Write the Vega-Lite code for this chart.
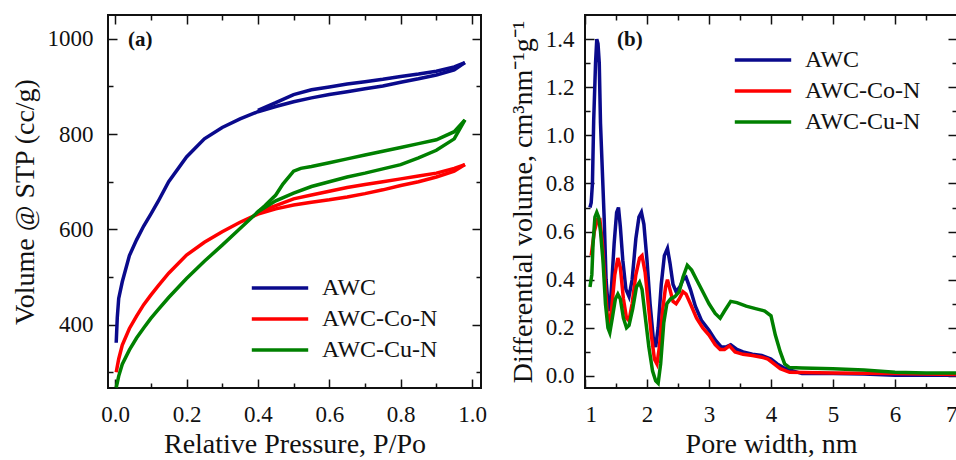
{
  "$schema": "https://vega.github.io/schema/vega-lite/v6.json",
  "background": "white",
  "padding": {"left": 10, "top": 13, "right": 0, "bottom": 0},
  "spacing": 20,
  "config": {
    "font": "Liberation Serif",
    "view": {"stroke": "#111", "strokeWidth": 2},
    "axis": {"labelFont": "Liberation Serif", "titleFont": "Liberation Serif", "labelColor": "#111", "titleColor": "#111", "tickColor": "#111", "grid": false, "domain": false, "labelFontSize": 23, "titleFontSize": 28, "titleFontWeight": "normal", "tickWidth": 1.5},
    "legend": {"labelFont": "Liberation Serif", "labelColor": "#111", "labelFontSize": 24, "padding": 0}
  },
  "datasets": {
    "iso": [
      {"s":"AWC","b":"ads","p":0.003,"v":362},{"s":"AWC","b":"ads","p":0.006,"v":415},{"s":"AWC","b":"ads","p":0.01,"v":455},{"s":"AWC","b":"ads","p":0.02,"v":490},{"s":"AWC","b":"ads","p":0.04,"v":545},{"s":"AWC","b":"ads","p":0.06,"v":578},{"s":"AWC","b":"ads","p":0.08,"v":607},{"s":"AWC","b":"ads","p":0.1,"v":632},{"s":"AWC","b":"ads","p":0.12,"v":658},{"s":"AWC","b":"ads","p":0.15,"v":700},{"s":"AWC","b":"ads","p":0.2,"v":752},{"s":"AWC","b":"ads","p":0.25,"v":790},{"s":"AWC","b":"ads","p":0.3,"v":814},{"s":"AWC","b":"ads","p":0.35,"v":832},{"s":"AWC","b":"ads","p":0.4,"v":847},{"s":"AWC","b":"ads","p":0.45,"v":858},{"s":"AWC","b":"ads","p":0.5,"v":868},{"s":"AWC","b":"ads","p":0.55,"v":876},{"s":"AWC","b":"ads","p":0.6,"v":883},{"s":"AWC","b":"ads","p":0.65,"v":889},{"s":"AWC","b":"ads","p":0.7,"v":895},{"s":"AWC","b":"ads","p":0.75,"v":901},{"s":"AWC","b":"ads","p":0.8,"v":909},{"s":"AWC","b":"ads","p":0.85,"v":916},{"s":"AWC","b":"ads","p":0.9,"v":924},{"s":"AWC","b":"ads","p":0.95,"v":935},{"s":"AWC","b":"ads","p":0.98,"v":950},
      {"s":"AWC","b":"des","p":0.4,"v":850},{"s":"AWC","b":"des","p":0.45,"v":866},{"s":"AWC","b":"des","p":0.5,"v":883},{"s":"AWC","b":"des","p":0.55,"v":893},{"s":"AWC","b":"des","p":0.6,"v":899},{"s":"AWC","b":"des","p":0.65,"v":905},{"s":"AWC","b":"des","p":0.7,"v":910},{"s":"AWC","b":"des","p":0.75,"v":915},{"s":"AWC","b":"des","p":0.8,"v":921},{"s":"AWC","b":"des","p":0.85,"v":926},{"s":"AWC","b":"des","p":0.9,"v":932},{"s":"AWC","b":"des","p":0.95,"v":941},{"s":"AWC","b":"des","p":0.98,"v":950},
      {"s":"AWC-Co-N","b":"ads","p":0.003,"v":300},{"s":"AWC-Co-N","b":"ads","p":0.01,"v":328},{"s":"AWC-Co-N","b":"ads","p":0.02,"v":357},{"s":"AWC-Co-N","b":"ads","p":0.04,"v":392},{"s":"AWC-Co-N","b":"ads","p":0.06,"v":418},{"s":"AWC-Co-N","b":"ads","p":0.08,"v":442},{"s":"AWC-Co-N","b":"ads","p":0.1,"v":462},{"s":"AWC-Co-N","b":"ads","p":0.12,"v":481},{"s":"AWC-Co-N","b":"ads","p":0.15,"v":508},{"s":"AWC-Co-N","b":"ads","p":0.2,"v":546},{"s":"AWC-Co-N","b":"ads","p":0.25,"v":573},{"s":"AWC-Co-N","b":"ads","p":0.3,"v":595},{"s":"AWC-Co-N","b":"ads","p":0.35,"v":615},{"s":"AWC-Co-N","b":"ads","p":0.4,"v":632},{"s":"AWC-Co-N","b":"ads","p":0.45,"v":643},{"s":"AWC-Co-N","b":"ads","p":0.5,"v":651},{"s":"AWC-Co-N","b":"ads","p":0.55,"v":657},{"s":"AWC-Co-N","b":"ads","p":0.6,"v":662},{"s":"AWC-Co-N","b":"ads","p":0.65,"v":668},{"s":"AWC-Co-N","b":"ads","p":0.7,"v":675},{"s":"AWC-Co-N","b":"ads","p":0.75,"v":683},{"s":"AWC-Co-N","b":"ads","p":0.8,"v":692},{"s":"AWC-Co-N","b":"ads","p":0.85,"v":700},{"s":"AWC-Co-N","b":"ads","p":0.9,"v":710},{"s":"AWC-Co-N","b":"ads","p":0.95,"v":722},{"s":"AWC-Co-N","b":"ads","p":0.98,"v":736},
      {"s":"AWC-Co-N","b":"des","p":0.4,"v":636},{"s":"AWC-Co-N","b":"des","p":0.45,"v":650},{"s":"AWC-Co-N","b":"des","p":0.5,"v":664},{"s":"AWC-Co-N","b":"des","p":0.55,"v":672},{"s":"AWC-Co-N","b":"des","p":0.6,"v":680},{"s":"AWC-Co-N","b":"des","p":0.65,"v":688},{"s":"AWC-Co-N","b":"des","p":0.7,"v":694},{"s":"AWC-Co-N","b":"des","p":0.75,"v":700},{"s":"AWC-Co-N","b":"des","p":0.8,"v":706},{"s":"AWC-Co-N","b":"des","p":0.85,"v":712},{"s":"AWC-Co-N","b":"des","p":0.9,"v":718},{"s":"AWC-Co-N","b":"des","p":0.95,"v":728},{"s":"AWC-Co-N","b":"des","p":0.98,"v":736},
      {"s":"AWC-Cu-N","b":"ads","p":0.003,"v":268},{"s":"AWC-Cu-N","b":"ads","p":0.01,"v":292},{"s":"AWC-Cu-N","b":"ads","p":0.02,"v":317},{"s":"AWC-Cu-N","b":"ads","p":0.04,"v":347},{"s":"AWC-Cu-N","b":"ads","p":0.06,"v":372},{"s":"AWC-Cu-N","b":"ads","p":0.08,"v":393},{"s":"AWC-Cu-N","b":"ads","p":0.1,"v":413},{"s":"AWC-Cu-N","b":"ads","p":0.12,"v":431},{"s":"AWC-Cu-N","b":"ads","p":0.15,"v":457},{"s":"AWC-Cu-N","b":"ads","p":0.2,"v":497},{"s":"AWC-Cu-N","b":"ads","p":0.25,"v":533},{"s":"AWC-Cu-N","b":"ads","p":0.3,"v":567},{"s":"AWC-Cu-N","b":"ads","p":0.35,"v":602},{"s":"AWC-Cu-N","b":"ads","p":0.4,"v":637},{"s":"AWC-Cu-N","b":"ads","p":0.45,"v":660},{"s":"AWC-Cu-N","b":"ads","p":0.5,"v":676},{"s":"AWC-Cu-N","b":"ads","p":0.55,"v":690},{"s":"AWC-Cu-N","b":"ads","p":0.6,"v":700},{"s":"AWC-Cu-N","b":"ads","p":0.65,"v":710},{"s":"AWC-Cu-N","b":"ads","p":0.7,"v":718},{"s":"AWC-Cu-N","b":"ads","p":0.75,"v":727},{"s":"AWC-Cu-N","b":"ads","p":0.8,"v":736},{"s":"AWC-Cu-N","b":"ads","p":0.85,"v":750},{"s":"AWC-Cu-N","b":"ads","p":0.9,"v":766},{"s":"AWC-Cu-N","b":"ads","p":0.95,"v":790},{"s":"AWC-Cu-N","b":"ads","p":0.98,"v":830},
      {"s":"AWC-Cu-N","b":"des","p":0.4,"v":637},{"s":"AWC-Cu-N","b":"des","p":0.42,"v":650},{"s":"AWC-Cu-N","b":"des","p":0.45,"v":672},{"s":"AWC-Cu-N","b":"des","p":0.47,"v":695},{"s":"AWC-Cu-N","b":"des","p":0.5,"v":722},{"s":"AWC-Cu-N","b":"des","p":0.52,"v":728},{"s":"AWC-Cu-N","b":"des","p":0.55,"v":732},{"s":"AWC-Cu-N","b":"des","p":0.6,"v":740},{"s":"AWC-Cu-N","b":"des","p":0.65,"v":748},{"s":"AWC-Cu-N","b":"des","p":0.7,"v":756},{"s":"AWC-Cu-N","b":"des","p":0.75,"v":764},{"s":"AWC-Cu-N","b":"des","p":0.8,"v":772},{"s":"AWC-Cu-N","b":"des","p":0.85,"v":780},{"s":"AWC-Cu-N","b":"des","p":0.9,"v":788},{"s":"AWC-Cu-N","b":"des","p":0.95,"v":805},{"s":"AWC-Cu-N","b":"des","p":0.98,"v":830}
    ],
    "psd": [
      {"s":"AWC","w":1.08,"d":0.70},{"s":"AWC","w":1.10,"d":0.72},{"s":"AWC","w":1.12,"d":0.80},{"s":"AWC","w":1.14,"d":1.06},{"s":"AWC","w":1.17,"d":1.30},{"s":"AWC","w":1.19,"d":1.40},{"s":"AWC","w":1.21,"d":1.38},{"s":"AWC","w":1.23,"d":1.30},{"s":"AWC","w":1.25,"d":1.05},{"s":"AWC","w":1.28,"d":0.85},{"s":"AWC","w":1.31,"d":0.65},{"s":"AWC","w":1.34,"d":0.40},{"s":"AWC","w":1.37,"d":0.30},{"s":"AWC","w":1.40,"d":0.27},{"s":"AWC","w":1.43,"d":0.38},{"s":"AWC","w":1.47,"d":0.55},{"s":"AWC","w":1.51,"d":0.68},{"s":"AWC","w":1.54,"d":0.70},{"s":"AWC","w":1.57,"d":0.62},{"s":"AWC","w":1.61,"d":0.48},{"s":"AWC","w":1.66,"d":0.36},{"s":"AWC","w":1.71,"d":0.33},{"s":"AWC","w":1.76,"d":0.40},{"s":"AWC","w":1.82,"d":0.57},{"s":"AWC","w":1.87,"d":0.66},{"s":"AWC","w":1.91,"d":0.68},{"s":"AWC","w":1.95,"d":0.63},{"s":"AWC","w":2.00,"d":0.48},{"s":"AWC","w":2.05,"d":0.30},{"s":"AWC","w":2.10,"d":0.16},{"s":"AWC","w":2.14,"d":0.12},{"s":"AWC","w":2.18,"d":0.20},{"s":"AWC","w":2.23,"d":0.38},{"s":"AWC","w":2.28,"d":0.50},{"s":"AWC","w":2.33,"d":0.53},{"s":"AWC","w":2.37,"d":0.47},{"s":"AWC","w":2.42,"d":0.38},{"s":"AWC","w":2.47,"d":0.35},{"s":"AWC","w":2.53,"d":0.37},{"s":"AWC","w":2.58,"d":0.40},{"s":"AWC","w":2.63,"d":0.41},{"s":"AWC","w":2.70,"d":0.36},{"s":"AWC","w":2.78,"d":0.29},{"s":"AWC","w":2.88,"d":0.23},{"s":"AWC","w":3.00,"d":0.19},{"s":"AWC","w":3.10,"d":0.15},{"s":"AWC","w":3.20,"d":0.12},{"s":"AWC","w":3.27,"d":0.12},{"s":"AWC","w":3.35,"d":0.13},{"s":"AWC","w":3.45,"d":0.11},{"s":"AWC","w":3.55,"d":0.10},{"s":"AWC","w":3.70,"d":0.09},{"s":"AWC","w":3.85,"d":0.085},{"s":"AWC","w":4.00,"d":0.07},{"s":"AWC","w":4.10,"d":0.05},{"s":"AWC","w":4.20,"d":0.035},{"s":"AWC","w":4.30,"d":0.025},{"s":"AWC","w":4.50,"d":0.01},{"s":"AWC","w":5.00,"d":0.01},{"s":"AWC","w":5.50,"d":0.008},{"s":"AWC","w":6.00,"d":0.003},{"s":"AWC","w":6.50,"d":0.003},{"s":"AWC","w":7.00,"d":0.003},
      {"s":"AWC-Co-N","w":1.10,"d":0.50},{"s":"AWC-Co-N","w":1.15,"d":0.60},{"s":"AWC-Co-N","w":1.20,"d":0.65},{"s":"AWC-Co-N","w":1.24,"d":0.65},{"s":"AWC-Co-N","w":1.28,"d":0.55},{"s":"AWC-Co-N","w":1.32,"d":0.40},{"s":"AWC-Co-N","w":1.36,"d":0.25},{"s":"AWC-Co-N","w":1.39,"d":0.21},{"s":"AWC-Co-N","w":1.43,"d":0.28},{"s":"AWC-Co-N","w":1.48,"d":0.42},{"s":"AWC-Co-N","w":1.53,"d":0.49},{"s":"AWC-Co-N","w":1.57,"d":0.45},{"s":"AWC-Co-N","w":1.62,"d":0.32},{"s":"AWC-Co-N","w":1.67,"d":0.24},{"s":"AWC-Co-N","w":1.71,"d":0.23},{"s":"AWC-Co-N","w":1.76,"d":0.30},{"s":"AWC-Co-N","w":1.82,"d":0.42},{"s":"AWC-Co-N","w":1.88,"d":0.49},{"s":"AWC-Co-N","w":1.92,"d":0.50},{"s":"AWC-Co-N","w":1.97,"d":0.43},{"s":"AWC-Co-N","w":2.02,"d":0.30},{"s":"AWC-Co-N","w":2.07,"d":0.17},{"s":"AWC-Co-N","w":2.12,"d":0.07},{"s":"AWC-Co-N","w":2.16,"d":0.05},{"s":"AWC-Co-N","w":2.20,"d":0.12},{"s":"AWC-Co-N","w":2.25,"d":0.27},{"s":"AWC-Co-N","w":2.30,"d":0.37},{"s":"AWC-Co-N","w":2.33,"d":0.40},{"s":"AWC-Co-N","w":2.37,"d":0.36},{"s":"AWC-Co-N","w":2.42,"d":0.31},{"s":"AWC-Co-N","w":2.47,"d":0.30},{"s":"AWC-Co-N","w":2.52,"d":0.32},{"s":"AWC-Co-N","w":2.58,"d":0.35},{"s":"AWC-Co-N","w":2.63,"d":0.34},{"s":"AWC-Co-N","w":2.70,"d":0.30},{"s":"AWC-Co-N","w":2.80,"d":0.24},{"s":"AWC-Co-N","w":2.90,"d":0.20},{"s":"AWC-Co-N","w":3.00,"d":0.17},{"s":"AWC-Co-N","w":3.10,"d":0.13},{"s":"AWC-Co-N","w":3.18,"d":0.11},{"s":"AWC-Co-N","w":3.25,"d":0.11},{"s":"AWC-Co-N","w":3.33,"d":0.125},{"s":"AWC-Co-N","w":3.42,"d":0.10},{"s":"AWC-Co-N","w":3.55,"d":0.09},{"s":"AWC-Co-N","w":3.70,"d":0.085},{"s":"AWC-Co-N","w":3.85,"d":0.078},{"s":"AWC-Co-N","w":3.95,"d":0.07},{"s":"AWC-Co-N","w":4.05,"d":0.05},{"s":"AWC-Co-N","w":4.15,"d":0.03},{"s":"AWC-Co-N","w":4.30,"d":0.015},{"s":"AWC-Co-N","w":5.00,"d":0.012},{"s":"AWC-Co-N","w":6.00,"d":0.01},{"s":"AWC-Co-N","w":7.00,"d":0.006},
      {"s":"AWC-Cu-N","w":1.08,"d":0.37},{"s":"AWC-Cu-N","w":1.11,"d":0.42},{"s":"AWC-Cu-N","w":1.13,"d":0.55},{"s":"AWC-Cu-N","w":1.16,"d":0.66},{"s":"AWC-Cu-N","w":1.19,"d":0.68},{"s":"AWC-Cu-N","w":1.22,"d":0.66},{"s":"AWC-Cu-N","w":1.25,"d":0.60},{"s":"AWC-Cu-N","w":1.29,"d":0.48},{"s":"AWC-Cu-N","w":1.33,"d":0.30},{"s":"AWC-Cu-N","w":1.37,"d":0.20},{"s":"AWC-Cu-N","w":1.40,"d":0.18},{"s":"AWC-Cu-N","w":1.44,"d":0.24},{"s":"AWC-Cu-N","w":1.49,"d":0.32},{"s":"AWC-Cu-N","w":1.53,"d":0.34},{"s":"AWC-Cu-N","w":1.57,"d":0.32},{"s":"AWC-Cu-N","w":1.62,"d":0.24},{"s":"AWC-Cu-N","w":1.67,"d":0.20},{"s":"AWC-Cu-N","w":1.71,"d":0.21},{"s":"AWC-Cu-N","w":1.77,"d":0.28},{"s":"AWC-Cu-N","w":1.83,"d":0.37},{"s":"AWC-Cu-N","w":1.88,"d":0.39},{"s":"AWC-Cu-N","w":1.92,"d":0.36},{"s":"AWC-Cu-N","w":1.97,"d":0.25},{"s":"AWC-Cu-N","w":2.03,"d":0.12},{"s":"AWC-Cu-N","w":2.09,"d":0.02},{"s":"AWC-Cu-N","w":2.14,"d":-0.02},{"s":"AWC-Cu-N","w":2.18,"d":-0.03},{"s":"AWC-Cu-N","w":2.22,"d":0.05},{"s":"AWC-Cu-N","w":2.27,"d":0.22},{"s":"AWC-Cu-N","w":2.32,"d":0.30},{"s":"AWC-Cu-N","w":2.38,"d":0.32},{"s":"AWC-Cu-N","w":2.45,"d":0.33},{"s":"AWC-Cu-N","w":2.52,"d":0.35},{"s":"AWC-Cu-N","w":2.58,"d":0.41},{"s":"AWC-Cu-N","w":2.65,"d":0.46},{"s":"AWC-Cu-N","w":2.72,"d":0.44},{"s":"AWC-Cu-N","w":2.80,"d":0.40},{"s":"AWC-Cu-N","w":2.90,"d":0.35},{"s":"AWC-Cu-N","w":3.00,"d":0.30},{"s":"AWC-Cu-N","w":3.10,"d":0.26},{"s":"AWC-Cu-N","w":3.18,"d":0.24},{"s":"AWC-Cu-N","w":3.25,"d":0.27},{"s":"AWC-Cu-N","w":3.35,"d":0.31},{"s":"AWC-Cu-N","w":3.45,"d":0.305},{"s":"AWC-Cu-N","w":3.60,"d":0.29},{"s":"AWC-Cu-N","w":3.75,"d":0.28},{"s":"AWC-Cu-N","w":3.90,"d":0.27},{"s":"AWC-Cu-N","w":4.00,"d":0.25},{"s":"AWC-Cu-N","w":4.07,"d":0.17},{"s":"AWC-Cu-N","w":4.15,"d":0.10},{"s":"AWC-Cu-N","w":4.22,"d":0.05},{"s":"AWC-Cu-N","w":4.30,"d":0.035},{"s":"AWC-Cu-N","w":4.50,"d":0.033},{"s":"AWC-Cu-N","w":5.00,"d":0.03},{"s":"AWC-Cu-N","w":5.50,"d":0.025},{"s":"AWC-Cu-N","w":6.00,"d":0.015},{"s":"AWC-Cu-N","w":6.50,"d":0.012},{"s":"AWC-Cu-N","w":7.00,"d":0.012}
    ]
  },
  "resolve": {"scale": {"color": "independent"}},
  "hconcat": [
    {
      "width": 373,
      "height": 373,
      "data": {"name": "iso"},
      "title": {"text": "(a)", "anchor": "start", "frame": "group", "offset": -36, "dx": 20, "fontSize": 21, "fontWeight": "bold", "font": "Liberation Serif", "color": "#111"},
      "layer": [
        {
          "mark": {"type": "line", "strokeWidth": 3.5},
          "encoding": {
            "x": {"field": "p", "type": "quantitative", "scale": {"domain": [-0.02, 1.025], "nice": false, "zero": false},
                  "axis": {"orient": "bottom", "values": [0, 0.2, 0.4, 0.6, 0.8, 1.0], "format": ".1f", "tickSize": -9, "labelPadding": 24, "title": "Relative Pressure, P/Po", "titlePadding": 4}},
            "y": {"field": "v", "type": "quantitative", "scale": {"domain": [267, 1050], "nice": false, "zero": false},
                  "axis": {"orient": "left", "values": [400, 600, 800, 1000], "format": "d", "tickSize": -9, "labelPadding": 24, "title": "Volume @ STP (cc/g)", "titlePadding": 8}},
            "color": {"field": "s", "type": "nominal", "scale": {"domain": ["AWC", "AWC-Co-N", "AWC-Cu-N"], "range": ["#0a0a8c", "#ff0000", "#008000"]},
                      "legend": {"orient": "none", "legendX": 160, "legendY": 261, "title": null, "symbolType": "M-4.7,0H4.7", "symbolSize": 144, "symbolStrokeWidth": 3.5, "labelOffset": 30, "rowPadding": 7}},
            "detail": {"field": "b", "type": "nominal"}
          }
        },
        {
          "mark": {"type": "point", "opacity": 0, "size": 1},
          "encoding": {
            "x": {"field": "p", "type": "quantitative", "axis": {"orient": "bottom", "values": [0.1, 0.3, 0.5, 0.7, 0.9], "tickSize": -5, "labels": false, "title": null}},
            "y": {"field": "v", "type": "quantitative", "axis": {"orient": "left", "values": [300, 500, 700, 900], "tickSize": -5, "labels": false, "title": null}}
          }
        },
        {
          "mark": {"type": "point", "opacity": 0, "size": 1},
          "encoding": {
            "x": {"field": "p", "type": "quantitative", "axis": {"orient": "top", "values": [0, 0.2, 0.4, 0.6, 0.8, 1.0], "tickSize": -9, "labels": false, "title": null}},
            "y": {"field": "v", "type": "quantitative", "axis": {"orient": "right", "values": [400, 600, 800, 1000], "tickSize": -9, "labels": false, "title": null}}
          }
        },
        {
          "mark": {"type": "point", "opacity": 0, "size": 1},
          "encoding": {
            "x": {"field": "p", "type": "quantitative", "axis": {"orient": "top", "values": [0.1, 0.3, 0.5, 0.7, 0.9], "tickSize": -5, "labels": false, "title": null}},
            "y": {"field": "v", "type": "quantitative", "axis": {"orient": "right", "values": [300, 500, 700, 900], "tickSize": -5, "labels": false, "title": null}}
          }
        }
      ],
      "resolve": {"axis": {"x": "independent", "y": "independent"}}
    },
    {
      "width": 372,
      "height": 373,
      "data": {"name": "psd"},
      "title": {"text": "(b)", "anchor": "start", "frame": "group", "offset": -36, "dx": 32, "fontSize": 21, "fontWeight": "bold", "font": "Liberation Serif", "color": "#111"},
      "layer": [
        {
          "mark": {"type": "line", "strokeWidth": 3.5},
          "encoding": {
            "x": {"field": "w", "type": "quantitative", "scale": {"domain": [1, 7], "nice": false, "zero": false},
                  "axis": {"orient": "bottom", "values": [1, 2, 3, 4, 5, 6, 7], "format": "d", "tickSize": -9, "labelPadding": 24, "title": "Pore width, nm", "titlePadding": 4}},
            "y": {"field": "d", "type": "quantitative", "scale": {"domain": [-0.05, 1.5], "nice": false, "zero": false},
                  "axis": {"orient": "left", "values": [0, 0.2, 0.4, 0.6, 0.8, 1.0, 1.2, 1.4], "format": ".1f", "tickSize": -9, "labelPadding": 20, "title": "Differential volume, cm³nm⁻¹g⁻¹", "titlePadding": 8}},
            "color": {"field": "s", "type": "nominal", "scale": {"domain": ["AWC", "AWC-Co-N", "AWC-Cu-N"], "range": ["#0a0a8c", "#ff0000", "#008000"]},
                      "legend": {"orient": "none", "legendX": 166, "legendY": 33, "title": null, "symbolType": "M-4.7,0H4.7", "symbolSize": 144, "symbolStrokeWidth": 3.5, "labelOffset": 30, "rowPadding": 7}}
          }
        },
        {
          "mark": {"type": "point", "opacity": 0, "size": 1},
          "encoding": {
            "x": {"field": "w", "type": "quantitative", "axis": {"orient": "bottom", "values": [1.5, 2.5, 3.5, 4.5, 5.5, 6.5], "tickSize": -5, "labels": false, "title": null}},
            "y": {"field": "d", "type": "quantitative", "axis": {"orient": "left", "values": [0.1, 0.3, 0.5, 0.7, 0.9, 1.1, 1.3], "tickSize": -5, "labels": false, "title": null}}
          }
        },
        {
          "mark": {"type": "point", "opacity": 0, "size": 1},
          "encoding": {
            "x": {"field": "w", "type": "quantitative", "axis": {"orient": "top", "values": [1, 2, 3, 4, 5, 6, 7], "tickSize": -9, "labels": false, "title": null}},
            "y": {"field": "d", "type": "quantitative", "axis": {"orient": "right", "values": [0, 0.2, 0.4, 0.6, 0.8, 1.0, 1.2, 1.4], "tickSize": -9, "labels": false, "title": null}}
          }
        },
        {
          "mark": {"type": "point", "opacity": 0, "size": 1},
          "encoding": {
            "x": {"field": "w", "type": "quantitative", "axis": {"orient": "top", "values": [1.5, 2.5, 3.5, 4.5, 5.5, 6.5], "tickSize": -5, "labels": false, "title": null}},
            "y": {"field": "d", "type": "quantitative", "axis": {"orient": "right", "values": [0.1, 0.3, 0.5, 0.7, 0.9, 1.1, 1.3], "tickSize": -5, "labels": false, "title": null}}
          }
        }
      ],
      "resolve": {"axis": {"x": "independent", "y": "independent"}}
    }
  ]
}
